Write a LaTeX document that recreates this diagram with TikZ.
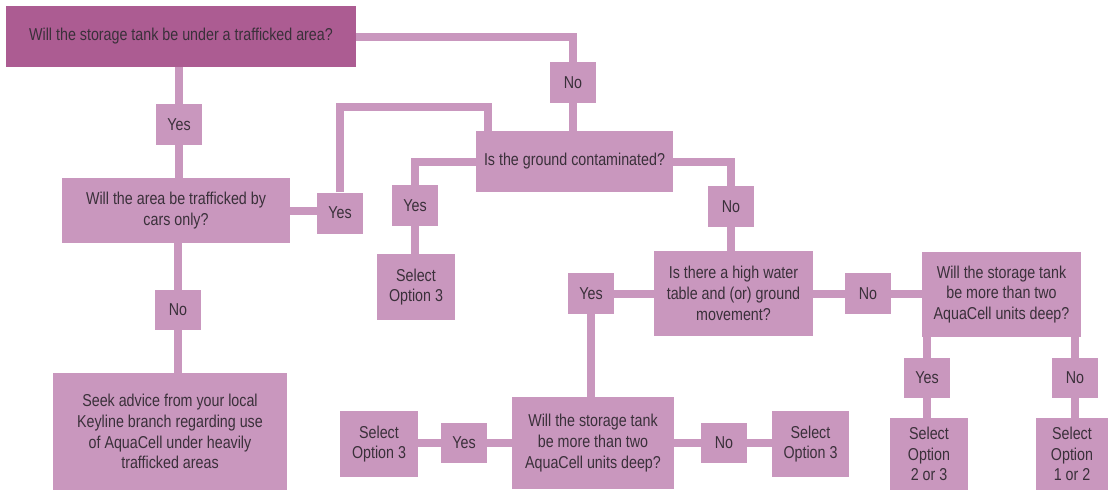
\documentclass[tikz,border=0pt]{standalone}
\usepackage{fontspec}
\setmainfont{Liberation Sans}[FakeStretch=0.83]
\usetikzlibrary{calc,backgrounds}
\definecolor{lightp}{RGB}{201,151,190}
\definecolor{darkp}{RGB}{172,92,146}
\definecolor{txt}{RGB}{58,48,58}
\begin{document}
\begin{tikzpicture}[x=1pt,y=-1pt,
  box/.style={fill=lightp, draw=none, text=txt, align=center, inner sep=0pt,
    font=\fontsize{17.2}{20.7}\selectfont},
  lbl/.style={box, minimum width=46pt, minimum height=41pt},
  conn/.style={draw=lightp, line width=8pt}]
\useasboundingbox (0,0) rectangle (1109,491);
% nodes
\node[box, fill=darkp, minimum width=350pt, minimum height=61pt] (top) at (181,36.5) {Will the storage tank be under a trafficked area?};
\node[lbl] (no1) at (573,82.5) {No};
\node[lbl] (yes1) at (179,124.5) {Yes};
\node[box, minimum width=228pt, minimum height=65pt] (cars) at (176,210.5) {Will the area be trafficked by\\cars only?};
\node[lbl] (yes2) at (340,213) {Yes};
\node[box, minimum width=197pt, minimum height=61pt] (ground) at (574.5,161.5) {Is the ground contaminated?};
\node[lbl] (yes3) at (415,205.5) {Yes};
\node[box, minimum width=78pt, minimum height=66pt] (sel1) at (416,287) {Select\\Option 3};
\node[lbl] (no2) at (731,206.5) {No};
\node[box, minimum width=159pt, minimum height=85pt] (water) at (733.5,293.5) {Is there a high water\\table and (or) ground\\movement?};
\node[lbl] (yes4) at (591,293.5) {Yes};
\node[lbl] (no3) at (868,293.5) {No};
\node[box, minimum width=159pt, minimum height=85pt] (deep2) at (1001.5,294.5) {Will the storage tank\\be more than two\\AquaCell units deep?};
\node[lbl, minimum height=40pt] (yes5) at (927,378) {Yes};
\node[lbl, minimum height=40pt] (no4) at (1075,378) {No};
\node[box, minimum width=78pt, minimum height=72pt] (sel23) at (929,454) {Select\\Option\\2 or 3};
\node[box, minimum width=72pt, minimum height=72pt] (sel12) at (1072,454) {Select\\Option\\1 or 2};
\node[box, minimum width=162pt, minimum height=92pt] (deep1) at (593,443) {Will the storage tank\\be more than two\\AquaCell units deep?};
\node[lbl, minimum height=40pt] (yes6) at (464,443) {Yes};
\node[box, minimum width=78pt, minimum height=66pt] (selL) at (379,444) {Select\\Option 3};
\node[lbl, minimum height=40pt] (no5) at (724,443) {No};
\node[box, minimum width=77pt, minimum height=66pt] (selR) at (810.5,444) {Select\\Option 3};
\node[lbl, minimum height=40pt] (no6) at (178,310) {No};
\node[box, minimum width=234pt, minimum height=117pt] (seek) at (170,431.5) {Seek advice from your local\\Keyline branch regarding use\\of AquaCell under heavily\\trafficked areas};
% connectors
\coordinate (g1) at ($(ground.north west)+(12.5,0)$);
\begin{scope}[on background layer]
\draw[conn] (top.east) -| (no1.north);
\draw[conn] (no1.south) -- (no1.south |- ground.north);
\draw[conn] (yes1.north |- top.south) -- (yes1.north);
\draw[conn] (yes1.south) -- (yes1.south |- cars.north);
\draw[conn] (cars.east) -- (cars.east -| yes2.west);
\draw[conn] (yes2.north) |- ([yshift=24pt]g1) -- (g1);
\draw[conn] (ground.west) -| (yes3.north);
\draw[conn] (yes3.south) -- (yes3.south |- sel1.north);
\draw[conn] (ground.east) -| (no2.north);
\draw[conn] (no2.south) -- (no2.south |- water.north);
\draw[conn] (water.west) -- (yes4.east);
\draw[conn] (yes4.south) -- (yes4.south |- deep1.north);
\draw[conn] (water.east) -- (no3.west);
\draw[conn] (no3.east) -- (no3.east -| deep2.west);
\draw[conn] (yes5.north |- deep2.south) -- (yes5.north);
\draw[conn] (yes5.south) -- (yes5.south |- sel23.north);
\draw[conn] (no4.north |- deep2.south) -- (no4.north);
\draw[conn] (no4.south) -- (no4.south |- sel12.north);
\draw[conn] (deep1.west) -- (yes6.east);
\draw[conn] (yes6.west) -- (yes6.west -| selL.east);
\draw[conn] (deep1.east) -- (no5.west);
\draw[conn] (no5.east) -- (no5.east -| selR.west);
\draw[conn] (no6.north |- cars.south) -- (no6.north);
\draw[conn] (no6.south) -- (no6.south |- seek.north);
\end{scope}
\end{tikzpicture}
\end{document}
